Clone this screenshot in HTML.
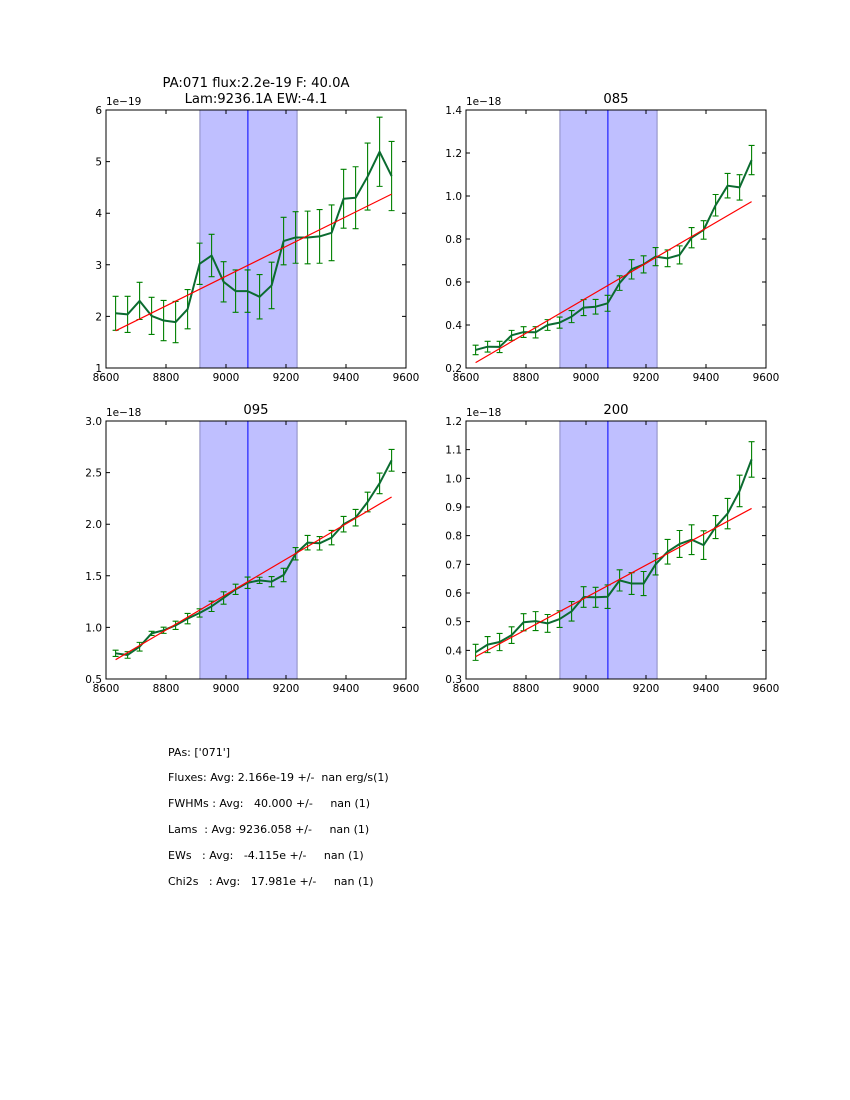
<!DOCTYPE html>
<html><head><meta charset="utf-8">
<style>
body{margin:0;background:#fff;}
#wrap{position:relative;width:850px;height:1100px;background:#fff;font-family:"DejaVu Sans","Liberation Sans",sans-serif;}
.info{position:absolute;left:168px;font-size:11px;white-space:pre;color:#000;}
</style></head>
<body>
<div id="wrap">
<svg id="fig" width="850" height="1100" style="position:absolute;left:0;top:0"></svg>
<div class="info" style="top:746px">PAs: ['071']</div>
<div class="info" style="top:771px">Fluxes: Avg: 2.166e-19 +/-  nan erg/s(1)</div>
<div class="info" style="top:797px">FWHMs : Avg:   40.000 +/-     nan (1)</div>
<div class="info" style="top:823px">Lams  : Avg: 9236.058 +/-     nan (1)</div>
<div class="info" style="top:849px">EWs   : Avg:   -4.115e +/-     nan (1)</div>
<div class="info" style="top:875px">Chi2s   : Avg:   17.981e +/-     nan (1)</div>
</div>
<script>
const wavelengths = [8632,8672,8712,8752,8792,8832,8872,8912,8952,8992,9032,9072,9112,9152,9192,9232,9272,9312,9352,9392,9432,9472,9512,9552];
const xTicks = [8600,8800,9000,9200,9400,9600];
const shadeRange = [8913,9237];
const centerLam = 9073;

const flux071 = [2.06,2.04,2.30,2.01,1.92,1.89,2.14,3.02,3.18,2.67,2.49,2.49,2.38,2.60,3.46,3.53,3.53,3.55,3.62,4.28,4.30,4.71,5.19,4.72];
const err071 = [0.33,0.35,0.36,0.36,0.39,0.40,0.38,0.40,0.41,0.39,0.41,0.41,0.43,0.45,0.46,0.50,0.51,0.52,0.54,0.57,0.60,0.65,0.67,0.67];
const fit071 = [1.72,4.37];
const yTicks071 = [1,2,3,4,5,6];
const yLabels071 = ["1","2","3","4","5","6"];

const flux085 = [0.284,0.299,0.298,0.352,0.367,0.366,0.400,0.411,0.439,0.481,0.485,0.501,0.595,0.659,0.682,0.718,0.710,0.726,0.806,0.842,0.957,1.048,1.040,1.167];
const err085 = [0.022,0.025,0.026,0.023,0.025,0.026,0.025,0.026,0.028,0.037,0.034,0.037,0.034,0.045,0.040,0.042,0.039,0.042,0.047,0.043,0.050,0.057,0.059,0.068];
const fit085 = [0.225,0.974];
const yTicks085 = [0.2,0.4,0.6,0.8,1.0,1.2,1.4];
const yLabels085 = ["0.2","0.4","0.6","0.8","1.0","1.2","1.4"];

const flux095 = [0.749,0.733,0.813,0.942,0.972,1.020,1.085,1.140,1.204,1.285,1.369,1.433,1.456,1.443,1.508,1.714,1.821,1.815,1.870,2.0,2.063,2.215,2.396,2.619];
const err095 = [0.03,0.032,0.042,0.02,0.03,0.04,0.05,0.04,0.05,0.06,0.05,0.055,0.03,0.05,0.065,0.06,0.07,0.065,0.07,0.075,0.08,0.095,0.1,0.105];
const fit095 = [0.687,2.264];
const yTicks095 = [0.5,1.0,1.5,2.0,2.5,3.0];
const yLabels095 = ["0.5","1.0","1.5","2.0","2.5","3.0"];

const flux200 = [0.393,0.420,0.429,0.453,0.498,0.502,0.494,0.509,0.536,0.586,0.585,0.587,0.644,0.633,0.633,0.700,0.744,0.771,0.786,0.767,0.830,0.877,0.956,1.066];
const err200 = [0.028,0.028,0.030,0.029,0.030,0.033,0.031,0.029,0.034,0.036,0.035,0.041,0.037,0.038,0.042,0.037,0.043,0.047,0.052,0.050,0.040,0.053,0.055,0.062];
const fit200 = [0.378,0.895];
const yTicks200 = [0.3,0.4,0.5,0.6,0.7,0.8,0.9,1.0,1.1,1.2];
const yLabels200 = ["0.3","0.4","0.5","0.6","0.7","0.8","0.9","1.0","1.1","1.2"];

const NS='http://www.w3.org/2000/svg';
const svg=document.getElementById('fig');
function mk(tag,attrs,parent){const e=document.createElementNS(NS,tag);for(const k in attrs)e.setAttribute(k,attrs[k]);(parent||svg).appendChild(e);return e;}

function panel(cfg){
  const L=cfg.left,T=cfg.top,W=300,H=258;
  const g=mk('g',{});
  
  
  const xs=v=>L+(v-8600)/1000*W;
  const y0=cfg.yTicks[0],y1=cfg.yTicks[cfg.yTicks.length-1];
  const ys=v=>T+H-(v-y0)/(y1-y0)*H;
  const sh=mk('rect',{x:xs(shadeRange[0]),y:T,width:xs(shadeRange[1])-xs(shadeRange[0]),height:H,fill:'#bfbfff',stroke:'#8c8cc0','stroke-width':1},g);
  
  
  const cl=mk('line',{x1:xs(centerLam),x2:xs(centerLam),y1:T,y2:T+H,stroke:'#0000ff','stroke-width':1},g);
  
  
  cfg.flux.forEach((v,i)=>{
    const x=xs(wavelengths[i]),a=ys(v+cfg.err[i]),b=ys(v-cfg.err[i]);
    const eb=mk('path',{d:`M${x},${a}V${b}M${x-3},${a}H${x+3}M${x-3},${b}H${x+3}`,stroke:'#008000','stroke-width':1.1,fill:'none'},g);
    
    
  });
  const pts=cfg.flux.map((v,i)=>xs(wavelengths[i])+','+ys(v)).join(' ');
  const pl=mk('polyline',{points:pts,fill:'none',stroke:'#0b6b30','stroke-width':2,'stroke-linejoin':'round'},g);
  
  
  const fl=mk('line',{x1:xs(wavelengths[0]),y1:ys(cfg.fit[0]),x2:xs(wavelengths[wavelengths.length-1]),y2:ys(cfg.fit[1]),stroke:'#ff0000','stroke-width':1.2},g);
  
  
  const fr=mk('rect',{x:L,y:T,width:W,height:H,fill:'none',stroke:'#000','stroke-width':1},g);
  
  
  xTicks.forEach(t=>{
    const x=xs(t);
    mk('path',{d:`M${x},${T+H}v-4M${x},${T}v4`,stroke:'#000','stroke-width':1},g);
    const tx=mk('text',{x:x,y:T+H+13,'text-anchor':'middle','font-size':'10.5','font-family':'DejaVu Sans, Liberation Sans, sans-serif'},g);
    tx.textContent=t;
    
    
  });
  cfg.yTicks.forEach((t,i)=>{
    const y=ys(t);
    mk('path',{d:`M${L},${y}h4M${L+W},${y}h-4`,stroke:'#000','stroke-width':1},g);
    const tx=mk('text',{x:L-4,y:y+4,'text-anchor':'end','font-size':'10.5','font-family':'DejaVu Sans, Liberation Sans, sans-serif'},g);
    tx.textContent=cfg.yLabels[i];
    
    
  });
  const off=mk('text',{x:L,y:T-5,'font-size':'10.5','font-family':'DejaVu Sans, Liberation Sans, sans-serif'},g);
  off.textContent=cfg.offset;
  
  
  cfg.title.forEach((s,i)=>{
    const tt=mk('text',{x:L+W/2,y:T-7-(cfg.title.length-1-i)*16,'text-anchor':'middle','font-size':'13.2','font-family':'DejaVu Sans, Liberation Sans, sans-serif'},g);
    tt.textContent=s;
    
    
  });
}
panel({name:'panel-071',left:106,top:110,flux:flux071,err:err071,fit:fit071,yTicks:yTicks071,yLabels:yLabels071,offset:'1e\u221219',title:['PA:071 flux:2.2e-19 F: 40.0A','Lam:9236.1A EW:-4.1']});
panel({name:'panel-085',left:466,top:110,flux:flux085,err:err085,fit:fit085,yTicks:yTicks085,yLabels:yLabels085,offset:'1e\u221218',title:['085']});
panel({name:'panel-095',left:106,top:421,flux:flux095,err:err095,fit:fit095,yTicks:yTicks095,yLabels:yLabels095,offset:'1e\u221218',title:['095']});
panel({name:'panel-200',left:466,top:421,flux:flux200,err:err200,fit:fit200,yTicks:yTicks200,yLabels:yLabels200,offset:'1e\u221218',title:['200']});
</script>
</body></html>
